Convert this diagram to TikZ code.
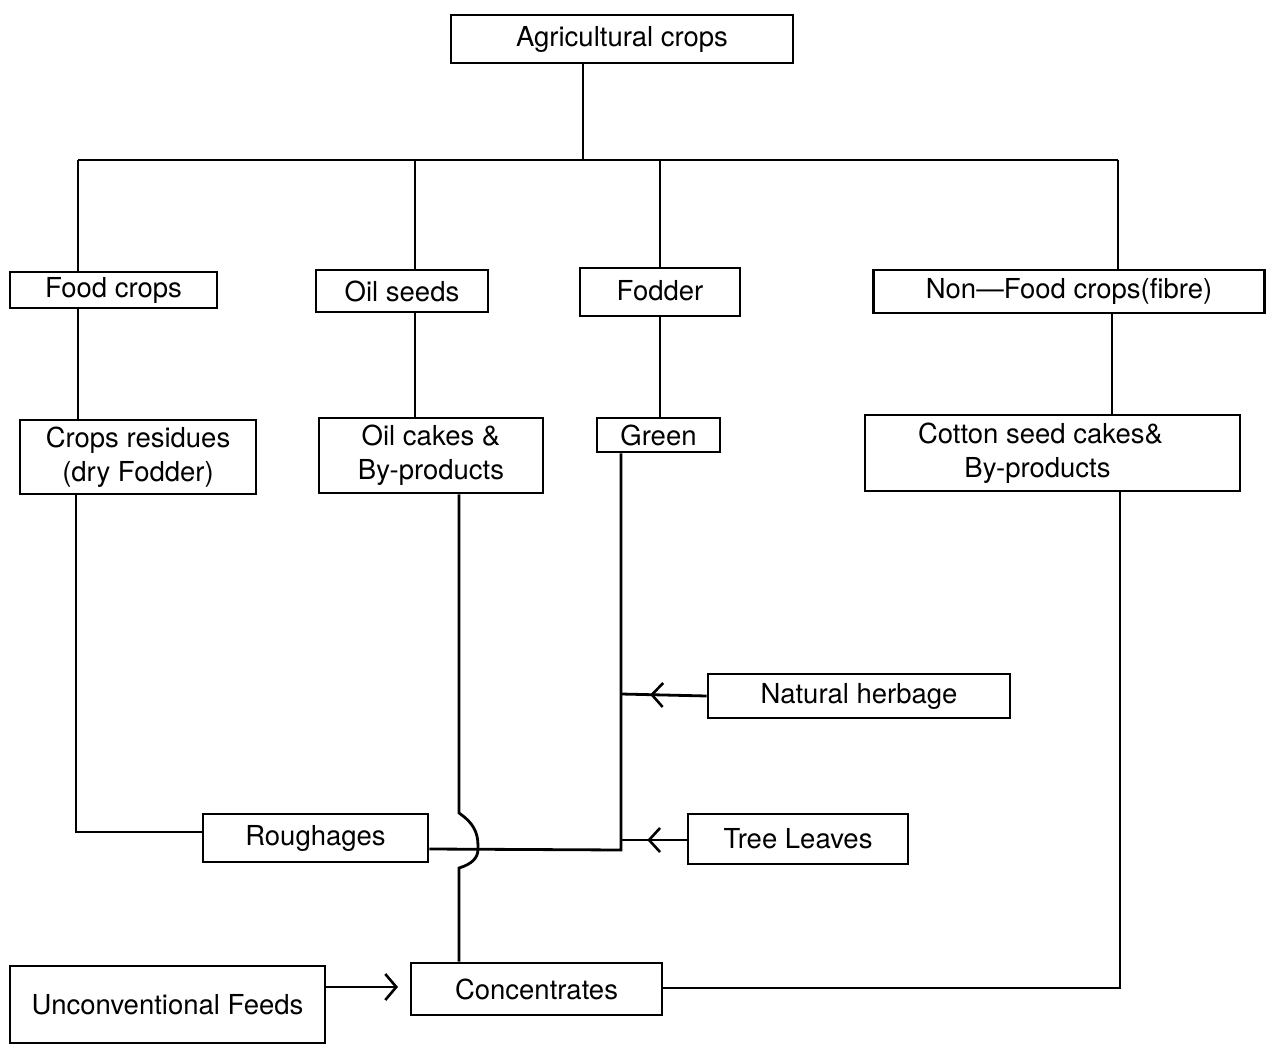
\documentclass[tikz,border=0pt]{standalone}
\usepackage{fontspec}
\setmainfont{TeX Gyre Heros}
\usetikzlibrary{arrows.meta,decorations.markings}
\begin{document}
\begin{tikzpicture}[x=1pt,y=-1pt,
  box/.style={draw,line width=2.6pt,inner sep=0pt,align=center,
    font=\fontsize{27.5}{34}\selectfont},
  conn/.style={line width=2.8pt},
  midarrow/.style={postaction={decorate},decoration={markings,
    mark=at position #1 with {\arrow{Straight Barb[length=11pt,width=24pt,line width=2.6pt]}}}}]
\useasboundingbox (0,0) rectangle (1267,1046);
% boxes
\node[box,minimum width=342,minimum height=48] (ag) at (622,39) {Agricultural crops};
\node[box,minimum width=207,minimum height=36] (food) at (113.5,290) {Food crops};
\node[box,minimum width=172,minimum height=42] (oil) at (402,291) {Oil seeds};
\node[box,minimum width=160,minimum height=48] (fod) at (660,292) {\raisebox{4pt}{Fodder}};
\node[box,minimum width=391,minimum height=43] (nonf) at (1069,291.5) {Non—Food crops(fibre)};
\node[box,minimum width=236,minimum height=74] (crop) at (138,457) {Crops residues\\(dry Fodder)};
\node[box,minimum width=224,minimum height=75] (oilc) at (431,455.5) {Oil cakes \&\\By-products};
\node[box,minimum width=123,minimum height=34] (grn) at (658.5,435) {Green};
\node[box,minimum width=375,minimum height=76] (cot) at (1052.5,453) {Cotton seed cakes\&\hspace*{24pt}\\By-products\hspace*{30pt}};
\node[box,minimum width=302,minimum height=44] (nh) at (859,696) {Natural herbage};
\node[box,minimum width=225,minimum height=48] (rough) at (315.5,838) {Roughages};
\node[box,minimum width=220,minimum height=50] (tree) at (798,839) {Tree Leaves};
\node[box,minimum width=315,minimum height=77] (unc) at (167.5,1004.5) {Unconventional Feeds};
\node[box,minimum width=251,minimum height=52] (conc) at (536.5,989) {Concentrates};
% junction coordinates
\coordinate (bus) at (583,160);
\coordinate (bl) at (78,160);
\coordinate (br) at (1118,160);
\coordinate (hopA) at (459,813);
\coordinate (hopB) at (459,868);
\coordinate (gj) at (621,850);
\coordinate (nhj) at (621,694);
\coordinate (trj) at (621,840);
\coordinate (uncend) at (398,987);
\coordinate (cj) at (1120,988);
\coordinate (cr) at (76,832);
% tree from top
\draw[conn] (ag.south -| bus) -- (bus);
\draw[conn] (bl) -- (br);
\draw[conn] (bl) -- (food.north -| bl);
\draw[conn] (bus -| 415,0) -- (oil.north -| 415,0);
\draw[conn] (bus -| 660,0) -- (fod.north -| 660,0);
\draw[conn] (br) -- (nonf.north -| br);
% second level
\draw[conn] (food.south -| 78,0) -- (crop.north -| 78,0);
\draw[conn] (oil.south -| 415,0) -- (oilc.north -| 415,0);
\draw[conn] (fod.south -| 660,0) -- (grn.north -| 660,0);
\draw[conn] (nonf.south -| 1112,0) -- (cot.north -| 1112,0);
% lower connections
\draw[conn] (crop.south -| cr) -- (cr) -- (rough.west |- cr);
\draw[conn] (grn.south -| gj) -- (gj) -- (rough.east |- 0,849);
\draw[conn] (oilc.south -| hopA) -- (hopA)
  .. controls (478,826) and (478,838) .. (478,849)
  .. controls (478,858) and (472,864) .. (hopB) -- (conc.north -| hopB);
\draw[conn,midarrow=0.66] (nh.west) -- (nhj);
\draw[conn,midarrow=0.6] (tree.west |- trj) -- (trj);
\draw[conn,-{Straight Barb[length=11pt,width=26pt,line width=2.6pt]}] (unc.east |- uncend) -- (uncend);
\draw[conn] (cot.south -| cj) -- (cj) -- (conc.east |- cj);
\end{tikzpicture}
\end{document}
